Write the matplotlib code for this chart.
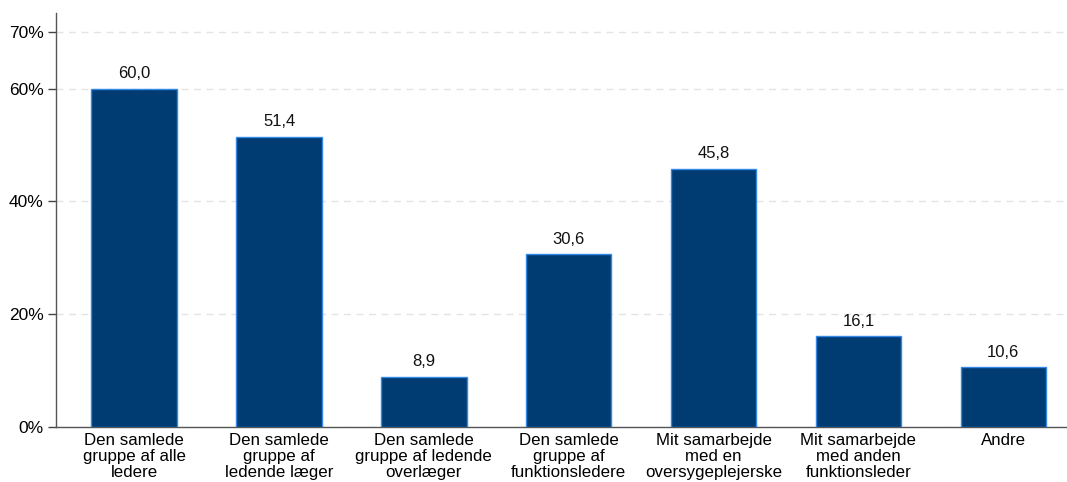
import matplotlib
matplotlib.use("Agg")
import matplotlib.pyplot as plt
from matplotlib.ticker import FuncFormatter

categories = [
    "Den samlede\ngruppe af alle\nledere",
    "Den samlede\ngruppe af\nledende læger",
    "Den samlede\ngruppe af ledende\noverlæger",
    "Den samlede\ngruppe af\nfunktionsledere",
    "Mit samarbejde\nmed en\noversygeplejerske",
    "Mit samarbejde\nmed anden\nfunktionsleder",
    "Andre",
]
values = [60.0, 51.4, 8.9, 30.6, 45.8, 16.1, 10.6]
yticks = [0, 20, 40, 60, 70]

plt.rcParams["font.family"] = ["Liberation Sans", "DejaVu Sans"]

fig = plt.figure(figsize=(10.67, 4.82), dpi=100)
ax = fig.add_axes([56 / 1067, 1 - 427 / 482, 1 - 56 / 1067, (427 - 13) / 482])

x = list(range(len(categories)))
ax.bar(x, values, width=0.59, color="#003b71", edgecolor="#3388e8",
       linewidth=1.0, zorder=3)

for xi, v in zip(x, values):
    ax.annotate(f"{v:.1f}".replace(".", ","), (xi, v), xytext=(0, 5.5),
                textcoords="offset points", ha="center", va="bottom",
                fontsize=12, color="#111111")

ax.set_xlim(-0.54, 6.44)
ax.set_ylim(0, 73.4)
ax.set_yticks(yticks)
ax.yaxis.set_major_formatter(FuncFormatter(lambda v, p: f"{v:.0f}%"))
ax.set_xticks(x)
ax.set_xticklabels(categories, fontsize=12.2, linespacing=1.12)
ax.tick_params(axis="x", length=0, pad=4)
ax.tick_params(axis="y", length=6, width=1, color="#444444", labelsize=12.5,
               pad=3)

ax.grid(axis="y", color="#e4e4e4", linestyle=(0, (5, 4)), linewidth=1, zorder=0)
for s in ("top", "right"):
    ax.spines[s].set_visible(False)
for s in ("left", "bottom"):
    ax.spines[s].set_color("#555555")
    ax.spines[s].set_linewidth(1)

fig.savefig("out.png", dpi=100)
